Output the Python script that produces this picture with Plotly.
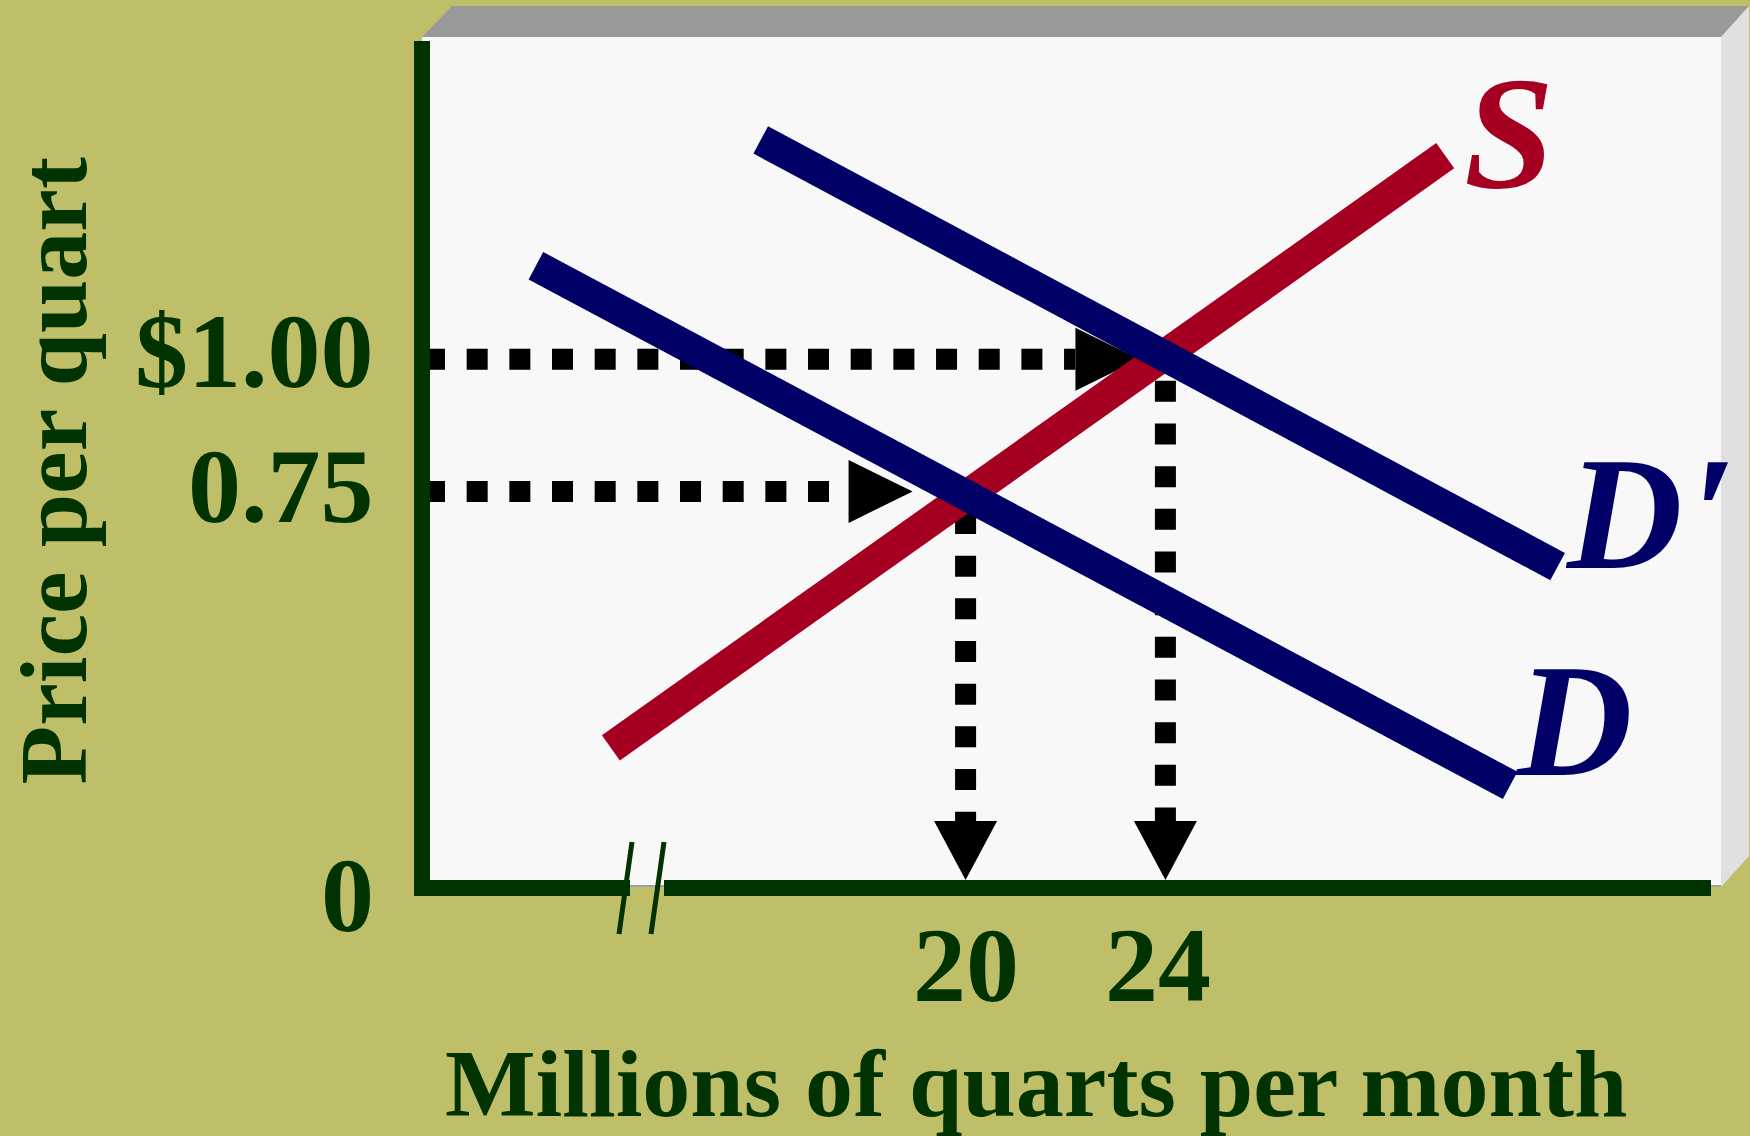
import plotly.graph_objects as go

# ---- chart values -------------------------------------------------------
# supply and demand curves: (quantity in millions of quarts, price in $)
supply_q = [12.9, 29.6]
supply_p = [0.265, 1.385]
demand_q = [11.4, 30.9]
demand_p = [1.177, 0.194]
demand_new_q = [15.9, 31.85]
demand_new_p = [1.415, 0.608]

# equilibria: old (D) and new (D')
eq_q = [20, 24]
eq_p = [0.75, 1.00]

price_tick_vals = [1.00, 0.75, 0]
price_tick_text = ["$1.00", "0.75", "0"]
qty_tick_vals = [20, 24]
qty_tick_text = ["20", "24"]

x_range = [9.12, 34.92]
y_range = [0.0, 1.602]

# ---- page geometry ------------------------------------------------------
W, H = 1750, 1136
L, R, T, B = 422, 1711, 41, 888
sx = (R - L) / (x_range[1] - x_range[0])
sy = (B - T) / (y_range[1] - y_range[0])


def dq(px):
    return px / sx


def dp(px):
    return px / sy


def fx(px):
    return (px - L) / (R - L)


def fy(py):
    return (B - py) / (B - T)


OLIVE = "#BFBF6A"
GREEN = "#003300"
RED = "#A50021"
NAVY = "#000066"
SERIF = "Liberation Serif, Times New Roman, serif"
DOT = "21px,21.67px"

fig = go.Figure()
shapes = []

# horizontal dotted guides with right-pointing arrowheads
h_tip_gap = [53, 26]
arrow_len, arrow_half = 64, 31.5
for q, p, gap in zip(eq_q, eq_p, h_tip_gap):
    tip = q - dq(gap)
    base = tip - dq(arrow_len)
    fig.add_trace(go.Scatter(
        x=[x_range[0] + dq(2), base], y=[p, p], mode="lines",
        line=dict(color="black", width=21, dash=DOT),
        hoverinfo="skip", showlegend=False))
    shapes.append(dict(
        type="path", xref="x", yref="y", layer="below",
        path=f"M{base},{p - dp(arrow_half)} L{base},{p + dp(arrow_half)} L{tip},{p} Z",
        fillcolor="black", line=dict(width=0)))

# vertical dotted guides with down-pointing arrowheads
v_len = 59
for q, p in zip(eq_q, eq_p):
    tip = y_range[0] + dp(8)
    base = tip + dp(v_len)
    fig.add_trace(go.Scatter(
        x=[q, q], y=[p - dp(21.5), base], mode="lines",
        line=dict(color="black", width=21, dash=DOT),
        hoverinfo="skip", showlegend=False))
    shapes.append(dict(
        type="path", xref="x", yref="y", layer="below",
        path=f"M{q - dq(arrow_half)},{base} L{q + dq(arrow_half)},{base} L{q},{tip} Z",
        fillcolor="black", line=dict(width=0)))

# curves
for xs, ys, col in [(supply_q, supply_p, RED),
                    (demand_q, demand_p, NAVY),
                    (demand_new_q, demand_new_p, NAVY)]:
    fig.add_trace(go.Scatter(
        x=xs, y=ys, mode="lines", line=dict(color=col, width=31),
        hoverinfo="skip", showlegend=False))

# 3-D panel behind the plot
shapes += [
    dict(type="path", xref="paper", yref="paper", layer="below",
         path=f"M{fx(422)},{fy(37)} L{fx(452)},{fy(6)} L{fx(1749)},{fy(6)} L{fx(1721)},{fy(37)} Z",
         fillcolor="#999999", line=dict(width=0)),
    dict(type="path", xref="paper", yref="paper", layer="below",
         path=f"M{fx(1721)},{fy(37)} L{fx(1749)},{fy(6)} L{fx(1749)},{fy(856)} L{fx(1721)},{fy(887)} Z",
         fillcolor="#E0E0E0", line=dict(width=0)),
    dict(type="rect", xref="paper", yref="paper", layer="below",
         x0=fx(422), x1=fx(1721), y0=fy(887), y1=fy(37),
         fillcolor="#F8F8F8", line=dict(width=0)),
    dict(type="line", xref="paper", yref="paper", layer="below",
         x0=fx(422), x1=fx(1721), y0=fy(886), y1=fy(886),
         line=dict(color="#A0A0A0", width=2)),
]

# axes with a break mark on the quantity axis
shapes += [
    dict(type="line", xref="paper", yref="paper", layer="above",
         x0=fx(422), x1=fx(422), y0=fy(41), y1=fy(896),
         line=dict(color=GREEN, width=16)),
    dict(type="line", xref="paper", yref="paper", layer="above",
         x0=fx(414), x1=fx(630), y0=fy(888), y1=fy(888),
         line=dict(color=GREEN, width=16)),
    dict(type="line", xref="paper", yref="paper", layer="above",
         x0=fx(664), x1=fx(1711), y0=fy(888), y1=fy(888),
         line=dict(color=GREEN, width=16)),
    dict(type="line", xref="paper", yref="paper", layer="above",
         x0=fx(632), x1=fx(619), y0=fy(842), y1=fy(934),
         line=dict(color=GREEN, width=5)),
    dict(type="line", xref="paper", yref="paper", layer="above",
         x0=fx(664), x1=fx(651), y0=fy(842), y1=fy(934),
         line=dict(color=GREEN, width=5)),
]

tick_font = dict(family=SERIF, size=106, color=GREEN, weight="bold")
title_font = dict(family=SERIF, size=96, color=GREEN, weight="bold")
label_font = dict(family=SERIF, size=160, color=NAVY, weight="bold", style="italic")

annotations = []
for v, t, shift in zip(price_tick_vals, price_tick_text, [8, 4.5, -7.5]):
    annotations.append(dict(
        text=t, xref="paper", yref="y", x=fx(376), y=v,
        xanchor="right", yanchor="middle", yshift=shift,
        showarrow=False, font=tick_font))
for v, t, xs in zip(qty_tick_vals, qty_tick_text, [0, -7]):
    annotations.append(dict(
        text=t, xref="x", yref="paper", x=v, y=fy(965.5),
        xanchor="center", yanchor="middle", xshift=xs,
        showarrow=False, font=tick_font))

annotations += [
    dict(text="Millions of quarts per month", xref="paper", yref="paper",
         x=fx(1036), y=fy(1083), xanchor="center", yanchor="middle",
         showarrow=False, font=title_font),
    dict(text="Price per quart", xref="paper", yref="paper", textangle=-90,
         x=fx(53), y=fy(471.5), xanchor="center", yanchor="middle",
         showarrow=False, font=title_font),
    dict(text="S", xref="paper", yref="paper", x=fx(1462), y=fy(132),
         xanchor="left", yanchor="middle", showarrow=False,
         font=dict(family=SERIF, size=162, color=RED, weight="bold", style="italic")),
    dict(text="D", xref="paper", yref="paper", x=fx(1563), y=fy(514),
         xanchor="left", yanchor="middle", showarrow=False, font=label_font),
    dict(text="\u2032", xref="paper", yref="paper", x=fx(1689), y=fy(514),
         xanchor="left", yanchor="middle", showarrow=False, font=label_font),
    dict(text="D", xref="paper", yref="paper", x=fx(1513), y=fy(721),
         xanchor="left", yanchor="middle", showarrow=False, font=label_font),
]

fig.update_layout(
    width=W, height=H, autosize=False,
    margin=dict(l=L, r=W - R, t=T, b=H - B, pad=0),
    paper_bgcolor=OLIVE, plot_bgcolor="rgba(0,0,0,0)",
    xaxis=dict(range=x_range, visible=False, fixedrange=True),
    yaxis=dict(range=y_range, visible=False, fixedrange=True),
    shapes=shapes, annotations=annotations, showlegend=False,
)

fig.write_html("out.html", config={"displayModeBar": False})
